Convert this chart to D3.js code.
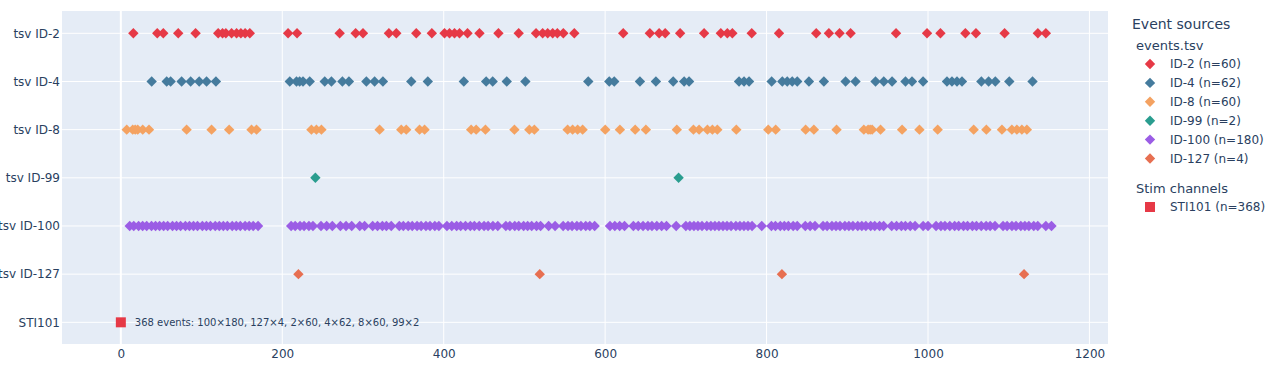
<!DOCTYPE html>
<html>
<head>
<meta charset="utf-8">
<script src="https://cdn.jsdelivr.net/npm/d3@7"></script>
<style>
  body { margin: 0; background: #fff; }
  text { font-family: "DejaVu Sans", Verdana, sans-serif; fill: #2a3f5f; }
</style>
</head>
<body>
<svg width="1273" height="372"></svg>
<script>
// Row labels, top to bottom
const rowLabels = ["tsv ID-2", "tsv ID-4", "tsv ID-8", "tsv ID-99", "tsv ID-100", "tsv ID-127", "STI101"];

// Event times (s) per source
const id2Times = [15.5, 45.1, 52.6, 71.1, 92.6, 120.6, 126.0, 130.1, 137.2, 143.4, 148.7, 154.0, 159.8, 207.2, 218.3,
  271.1, 290.9, 300.0, 332.1, 341.3, 366.0, 385.3, 401.0, 407.2, 413.4, 419.6, 429.5, 444.3, 467.8, 492.9,
  514.4, 522.6, 528.8, 535.0, 540.8, 548.2, 561.8, 622.4, 655.4, 666.9, 674.4, 692.9, 722.6, 743.3, 751.4,
  757.6, 781.6, 815.4, 861.5, 877.2, 890.4, 904.1, 960.4, 998.8, 1015.4, 1046.3, 1059.4, 1094.9, 1136.1, 1146.0];

const id4Times = [38.2, 56.8, 61.7, 75.3, 86.5, 97.1, 106.2, 117.8, 209.3, 217.6, 221.5, 225.7, 234.0, 252.6, 260.9,
  274.5, 282.6, 304.2, 314.4, 324.7, 359.8, 380.3, 424.9, 452.6, 460.7, 478.1, 501.2, 579.1, 605.1, 611.3,
  643.1, 662.9, 684.3, 697.9, 704.0, 765.9, 772.1, 778.3, 806.3, 819.5, 825.6, 831.8, 838.0, 852.5, 871.0,
  897.9, 910.2, 935.0, 945.2, 955.5, 972.1, 980.2, 993.9, 1023.5, 1029.7, 1035.9, 1042.1, 1066.1, 1075.1,
  1083.4, 1100.7, 1129.5];

const id8Times = [7.3, 14.7, 17.8, 20.9, 27.1, 34.9, 81.5, 112.4, 134.2, 161.9, 168.1, 236.1, 242.3, 248.5, 320.6,
  347.4, 353.6, 370.1, 376.3, 434.0, 440.2, 451.7, 487.6, 506.1, 512.3, 553.5, 559.7, 565.9, 572.1, 600.1,
  618.3, 637.2, 650.5, 688.8, 709.4, 716.4, 726.7, 732.9, 739.0, 762.5, 802.1, 811.3, 848.4, 858.6, 886.7,
  920.5, 925.8, 928.3, 930.8, 941.2, 967.9, 989.4, 1012.0, 1056.6, 1072.3, 1091.6, 1103.9, 1110.1, 1116.3, 1122.5];

const id99Times = [241, 691];

const id100Times = [11, 16, 22, 27, 32, 38, 43, 48, 53, 58, 64, 69, 74, 80, 85, 90, 95, 101, 106, 111,
  117, 122, 127, 132, 138, 143, 148, 154, 159, 164, 170,
  211, 216, 222, 227, 233, 238, 248, 255, 262, 272, 279, 286, 296, 302,
  312, 318, 324, 329, 335, 345, 350, 356, 361, 367, 372, 378, 383, 389, 394,
  404, 410, 416, 421, 427, 433, 438, 444, 450, 455, 461, 467,
  477, 482, 488, 493, 499, 504, 509, 515, 520, 530, 538,
  548, 554, 559, 565, 570, 576, 581, 587, 606, 612, 618, 624,
  635, 641, 647, 653, 658, 664, 670, 676, 688,
  700, 705, 710, 715, 720, 726, 731, 736, 741, 746, 751, 756, 762, 767, 772, 777, 782, 794,
  806, 811, 817, 822, 827, 833, 838, 848, 854, 860,
  870, 875, 881, 886, 891, 897, 902, 907, 913, 918, 923, 929, 934, 940, 945,
  955, 961, 967, 972, 978, 984, 994, 1000,
  1010, 1016, 1021, 1027, 1033, 1038, 1044, 1049, 1055, 1060, 1066, 1072, 1077, 1083,
  1093, 1098, 1104, 1109, 1115, 1120, 1125, 1131, 1136, 1146, 1153];

const id127Times = [220, 519, 819, 1119];

const stiTimes = [0];

// Series metadata (legend names and colours)
const seriesNames = ["ID-2 (n=60)", "ID-4 (n=62)", "ID-8 (n=60)", "ID-99 (n=2)", "ID-100 (n=180)", "ID-127 (n=4)"];
const seriesColors = ["#e63946", "#457b9d", "#f4a261", "#2a9d8f", "#9b5de5", "#e76f51"];
const stiName = "STI101 (n=368)";
const stiColor = "#e63946";
const stiNote = "368 events: 100×180, 127×4, 2×60, 4×62, 8×60, 99×2";

const xTicks = [0, 200, 400, 600, 800, 1000, 1200];

// Layout constants
const svg = d3.select("svg");
const plot = { left: 62, right: 1108, top: 11, bottom: 344 };

const x = d3.scaleLinear().domain([-72.9, 1223]).range([plot.left, plot.right]);
const y = d3.scaleLinear().domain([-0.463, 6.45]).range([plot.top, plot.bottom]);

// Plotly-like diamond and square symbols
const diamond = {
  draw(ctx, size) {
    const rd = Math.sqrt(size) / 2 * 1.3;
    ctx.moveTo(rd, 0); ctx.lineTo(0, rd); ctx.lineTo(-rd, 0); ctx.lineTo(0, -rd); ctx.closePath();
  }
};
const square = {
  draw(ctx, size) {
    const r = Math.sqrt(size) / 2;
    ctx.rect(-r, -r, 2 * r, 2 * r);
  }
};
const diamondPath = d3.symbol().type(diamond).size(64)();
const squarePath = d3.symbol().type(square).size(100)();

// Background
svg.append("rect")
  .attr("x", plot.left).attr("y", plot.top)
  .attr("width", plot.right - plot.left).attr("height", plot.bottom - plot.top)
  .attr("fill", "#e5ecf6");

// Grid lines
svg.append("g").selectAll("line")
  .data(xTicks.filter(d => d !== 0))
  .enter().append("line")
  .attr("x1", d => x(d)).attr("x2", d => x(d))
  .attr("y1", plot.top).attr("y2", plot.bottom)
  .attr("stroke", "#fff").attr("stroke-width", 1);

svg.append("g").selectAll("line")
  .data(rowLabels)
  .enter().append("line")
  .attr("x1", plot.left).attr("x2", plot.right)
  .attr("y1", (d, i) => y(i)).attr("y2", (d, i) => y(i))
  .attr("stroke", "#fff").attr("stroke-width", 1);

// zero line
svg.append("line")
  .attr("x1", x(0)).attr("x2", x(0))
  .attr("y1", plot.top).attr("y2", plot.bottom)
  .attr("stroke", "#fff").attr("stroke-width", 2);

// X axis
const xAxis = svg.append("g")
  .attr("transform", "translate(0," + plot.bottom + ")")
  .call(d3.axisBottom(x).tickValues(xTicks).tickFormat(d3.format("d")).tickSize(0).tickPadding(5));
xAxis.select(".domain").remove();
xAxis.selectAll("text").style("font-size", "12px").attr("fill", "#2a3f5f")
  .style("font-family", "DejaVu Sans, sans-serif");

// Y labels
svg.append("g").selectAll("text")
  .data(rowLabels)
  .enter().append("text")
  .attr("x", 60)
  .attr("y", (d, i) => y(i))
  .attr("dy", "0.35em")
  .attr("text-anchor", "end")
  .style("font-size", "12px")
  .text(d => d);

// Event markers, one row per source
const seriesTimes = [id2Times, id4Times, id8Times, id99Times, id100Times, id127Times];
seriesTimes.forEach(function(times, i) {
  svg.append("g").selectAll("path")
    .data(times)
    .enter().append("path")
    .attr("d", diamondPath)
    .attr("transform", d => "translate(" + x(d) + "," + y(i) + ")")
    .attr("fill", seriesColors[i]);
});

// Stim channel row
svg.append("g").selectAll("path")
  .data(stiTimes)
  .enter().append("path")
  .attr("d", squarePath)
  .attr("transform", d => "translate(" + x(d) + "," + y(6) + ")")
  .attr("fill", stiColor);

svg.append("text")
  .attr("x", x(stiTimes[0]) + 14)
  .attr("y", y(6))
  .attr("dy", "0.35em")
  .style("font-size", "10px")
  .text(stiNote);

// Legend
const legend = svg.append("g");
legend.append("text").attr("x", 1132).attr("y", 24).attr("dy", "0.35em")
  .style("font-size", "14px").text("Event sources");
legend.append("text").attr("x", 1136).attr("y", 45).attr("dy", "0.35em")
  .style("font-size", "13px").text("events.tsv");

seriesNames.forEach(function(name, i) {
  const ly = 64 + i * 18.9;
  legend.append("path").attr("d", diamondPath)
    .attr("transform", "translate(1150," + ly + ")")
    .attr("fill", seriesColors[i]);
  legend.append("text").attr("x", 1170).attr("y", ly).attr("dy", "0.35em")
    .style("font-size", "12px").text(name);
});

legend.append("text").attr("x", 1136).attr("y", 188).attr("dy", "0.35em")
  .style("font-size", "13px").text("Stim channels");
legend.append("path").attr("d", squarePath)
  .attr("transform", "translate(1150,207)")
  .attr("fill", stiColor);
legend.append("text").attr("x", 1170).attr("y", 207).attr("dy", "0.35em")
  .style("font-size", "12px").text(stiName);
</script>
</body>
</html>
